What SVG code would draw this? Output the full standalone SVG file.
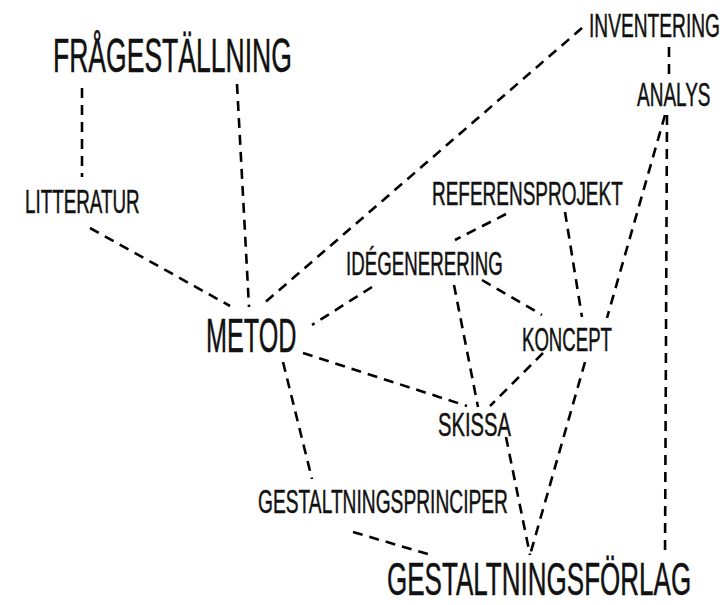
<svg xmlns="http://www.w3.org/2000/svg" width="725" height="605" viewBox="0 0 725 605">
<style>
text{font-family:"Liberation Sans","DejaVu Sans",sans-serif;fill:#111;stroke:#111;stroke-width:0.5;}
.s{font-size:33px;}
.b{font-size:48px;}
.c line{stroke:#000;stroke-width:2.6;stroke-dasharray:10 7;fill:none;}
</style>
<rect width="725" height="605" fill="#fff"/>
<g class="c" id="connectors">
<line x1="82" y1="88" x2="82" y2="177"/>
<line x1="237" y1="84" x2="249" y2="307"/>
<line x1="90" y1="228" x2="230" y2="306"/>
<line x1="582" y1="28" x2="262" y2="305"/>
<line x1="669" y1="47" x2="669" y2="76"/>
<line x1="667" y1="115" x2="665" y2="555"/>
<line x1="665" y1="115" x2="607" y2="318"/>
<line x1="585" y1="362" x2="530" y2="555"/>
<line x1="565" y1="212" x2="582" y2="317"/>
<line x1="506" y1="214" x2="455" y2="240"/>
<line x1="372" y1="287" x2="312" y2="325"/>
<line x1="482" y1="280" x2="542" y2="315"/>
<line x1="454" y1="285" x2="478" y2="407"/>
<line x1="303" y1="353" x2="467" y2="406"/>
<line x1="543" y1="353" x2="490" y2="406"/>
<line x1="506" y1="437" x2="530" y2="555"/>
<line x1="283" y1="362" x2="312" y2="479"/>
<line x1="353" y1="532" x2="431" y2="555"/>
</g>
<g id="fragestallning"><text class="b" transform="translate(53,72) scale(0.553,1)">FRÅGESTÄLLNING</text></g>
<g id="litteratur"><text class="s" transform="translate(25,213) scale(0.570,1)">LITTERATUR</text></g>
<g id="inventering"><text class="s" transform="translate(589,37) scale(0.581,1)">INVENTERING</text></g>
<g id="analys"><text class="s" transform="translate(637,106) scale(0.576,1)">ANALYS</text></g>
<g id="referensprojekt"><text class="s" transform="translate(432,205) scale(0.575,1)">REFERENSPROJEKT</text></g>
<g id="idegenerering"><text class="s" transform="translate(346,275) scale(0.567,1)">IDÉGENERERING</text></g>
<g id="metod"><text class="b" transform="translate(206,352) scale(0.525,1)">METOD</text></g>
<g id="koncept"><text class="s" transform="translate(522,351) scale(0.564,1)">KONCEPT</text></g>
<g id="skissa"><text class="s" transform="translate(438,436) scale(0.612,1)">SKISSA</text></g>
<g id="gestaltningsprinciper"><text class="s" transform="translate(258,513) scale(0.582,1)">GESTALTNINGSPRINCIPER</text></g>
<g id="gestaltningsforlag"><text style="font-size:46px" transform="translate(387,595) scale(0.566,1)">GESTALTNINGSFÖRLAG</text></g>
</svg>
